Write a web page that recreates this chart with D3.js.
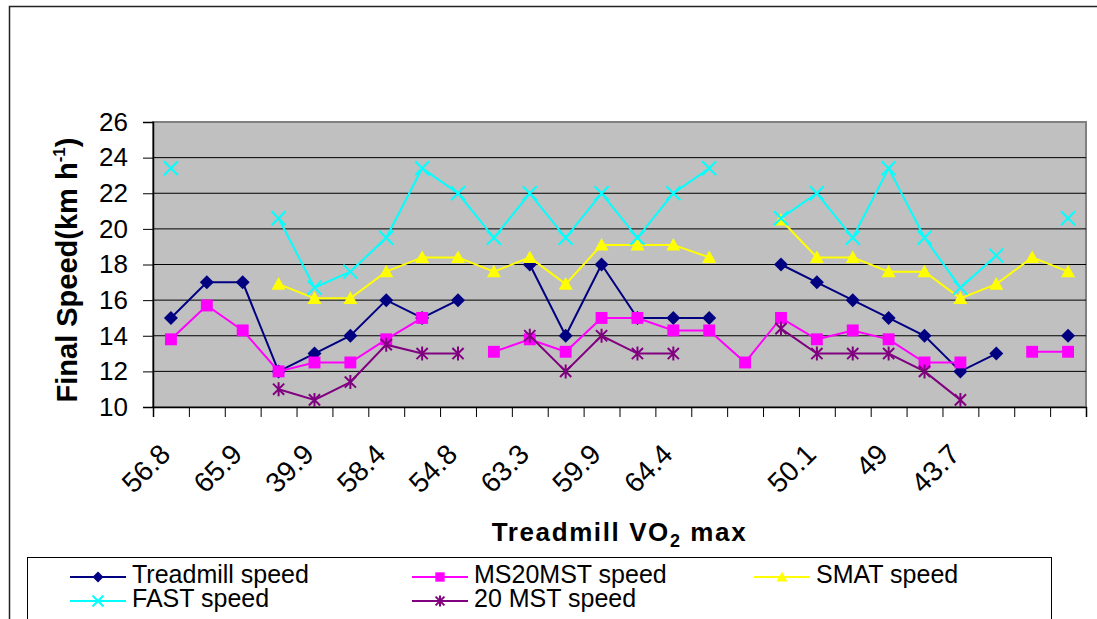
<!DOCTYPE html>
<html>
<head>
<meta charset="utf-8">
<style>
  body { margin: 0; background: #fff; }
  svg { display: block; font-family: "Liberation Sans", Arial, sans-serif; }
</style>
</head>
<body>
<svg width="1097" height="619"></svg>
<script src="https://d3js.org/d3.v7.min.js"></script>
<script>
// category labels (Excel only shows every other one)
const categories = ["56.8", "", "65.9", "", "39.9", "", "58.4", "", "54.8", "", "63.3", "", "59.9", "",
    "64.4", "", "", "", "50.1", "", "49", "", "43.7", "", "", ""];
const yTicks = [10, 12, 14, 16, 18, 20, 22, 24, 26];

const treadmill = [15, 17, 17, 12, 13, 14, 16, 15, 16, null, 18, 14, 18, 15, 15, 15, null, 18, 17, 16, 15, 14, 12, 13, null, 14];
const ms20mst = [13.8, 15.7, 14.3, 12, 12.5, 12.5, 13.8, 15, null, 13.1, 13.8, 13.1, 15, 15, 14.3, 14.3, 12.5, 15, 13.8, 14.3, 13.8, 12.5, 12.5, null, 13.1, 13.1];
const smat = [null, null, null, 16.9, 16.1, 16.1, 17.6, 18.4, 18.4, 17.6, 18.4, 16.9, 19.1, 19.1, 19.1, 18.4, null, 20.5, 18.4, 18.4, 17.6, 17.6, 16.1, 16.9, 18.4, 17.6];
const fast = [23.4, null, null, 20.6, 16.7, 17.6, 19.5, 23.4, 22, 19.5, 22, 19.5, 22, 19.5, 22, 23.4, null, 20.6, 22, 19.5, 23.4, 19.5, 16.7, 18.5, null, 20.6];
const mst20 = [null, null, null, 11, 10.4, 11.4, 13.5, 13, 13, null, 14, 12, 14, 13, 13, null, null, 14.4, 13, 13, 13, 12, 10.4, null, null, null];

const series = [
    { name: "Treadmill speed", values: treadmill, color: "#000080", marker: "diamond" },
    { name: "MS20MST speed", values: ms20mst, color: "#FF00FF", marker: "square" },
    { name: "SMAT speed", values: smat, color: "#FFFF00", marker: "triangle" },
    { name: "FAST speed", values: fast, color: "#00FFFF", marker: "x" },
    { name: "20 MST speed", values: mst20, color: "#800080", marker: "star" }
];

const svg = d3.select("svg");
const plot = { left: 153, right: 1086, top: 122, bottom: 407 };

// outer chart frame (runs off the picture to the right and bottom)
svg.append("rect")
    .attr("x", 9.5).attr("y", 6.5)
    .attr("width", 1200).attr("height", 700)
    .attr("fill", "#fff").attr("stroke", "#222").attr("stroke-width", 1.5);

const x = d3.scaleBand().domain(d3.range(categories.length)).range([plot.left, plot.right]);
const xEdge = d3.scaleLinear().domain([0, categories.length]).range([plot.left, plot.right]);
const y = d3.scaleLinear().domain([10, 26]).range([plot.bottom, plot.top]);
const cx = i => x(i) + x.bandwidth() / 2;

// plot background
svg.append("rect")
    .attr("x", plot.left).attr("y", plot.top)
    .attr("width", plot.right - plot.left).attr("height", plot.bottom - plot.top)
    .attr("fill", "#C0C0C0").attr("stroke", "#808080").attr("stroke-width", 2);

// gridlines
svg.append("g")
    .selectAll("line")
    .data(yTicks.slice(1, -1))
    .enter().append("line")
    .attr("x1", plot.left).attr("x2", plot.right)
    .attr("y1", d => y(d)).attr("y2", d => y(d))
    .attr("stroke", "#000").attr("stroke-width", 1);

// y axis
const yAxis = svg.append("g")
    .attr("transform", `translate(${plot.left},0)`)
    .call(d3.axisLeft(y).tickValues(yTicks).tickSize(10).tickPadding(15).tickFormat(d3.format("d")));
yAxis.select(".domain").attr("stroke", "#000").attr("stroke-width", 1.5);
yAxis.selectAll(".tick line").attr("stroke", "#000");
yAxis.selectAll("text").attr("font-size", 26).attr("fill", "#000")
    .attr("font-family", "'Liberation Sans', Arial, sans-serif");

// x axis (ticks between categories)
const xAxis = svg.append("g")
    .attr("transform", `translate(0,${plot.bottom})`)
    .call(d3.axisBottom(xEdge).ticks(categories.length).tickSize(10).tickFormat(""));
xAxis.select(".domain").attr("stroke", "#000").attr("stroke-width", 1.5);
xAxis.selectAll(".tick line").attr("stroke", "#000");

svg.append("g")
    .selectAll("text")
    .data(categories.map((c, i) => ({ c, i })).filter(d => d.c !== ""))
    .enter().append("text")
    .attr("transform", d => `translate(${cx(d.i) + 1},456) rotate(-45)`)
    .attr("text-anchor", "end")
    .attr("font-size", 28)
    .text(d => d.c);

// marker shapes
function drawMarker(g, type, color, s) {
    if (type === "diamond") {
        g.append("path").attr("d", `M0,${-s}L${s},0L0,${s}L${-s},0Z`).attr("fill", color);
    } else if (type === "square") {
        g.append("rect").attr("x", -s * 0.85).attr("y", -s * 0.85)
            .attr("width", s * 1.7).attr("height", s * 1.7).attr("fill", color);
    } else if (type === "triangle") {
        g.append("path").attr("d", `M0,${-s}L${s},${s * 0.8}L${-s},${s * 0.8}Z`).attr("fill", color);
    } else if (type === "x") {
        g.append("path").attr("d", `M${-s},${-s}L${s},${s}M${-s},${s}L${s},${-s}`)
            .attr("stroke", color).attr("stroke-width", 2).attr("fill", "none");
    } else if (type === "star") {
        const k = s * 0.8;
        g.append("path").attr("d", `M${-k},${-k}L${k},${k}M${-k},${k}L${k},${-k}M0,${-s}L0,${s}`)
            .attr("stroke", color).attr("stroke-width", 2).attr("fill", "none");
    }
}

const line = d3.line()
    .defined(d => d.v != null)
    .x(d => cx(d.i))
    .y(d => y(d.v));

series.forEach(s => {
    const pts = s.values.map((v, i) => ({ v, i }));
    const g = svg.append("g");
    g.append("path")
        .datum(pts)
        .attr("d", line)
        .attr("fill", "none")
        .attr("stroke", s.color)
        .attr("stroke-width", 2);
    g.selectAll("g.m")
        .data(pts.filter(d => d.v != null))
        .enter().append("g")
        .attr("class", "m")
        .attr("transform", d => `translate(${cx(d.i)},${y(d.v)})`)
        .each(function () { drawMarker(d3.select(this), s.marker, s.color, 7); });
});

// axis titles
const xTitle = svg.append("text")
    .attr("x", (plot.left + plot.right) / 2).attr("y", 541)
    .attr("text-anchor", "middle")
    .attr("font-size", 26).attr("font-weight", "bold")
    .attr("letter-spacing", 1.6);
xTitle.append("tspan").text("Treadmill VO");
xTitle.append("tspan").attr("font-size", 18).attr("dy", 6).text("2");
xTitle.append("tspan").attr("dy", -6).text(" max");

const yTitle = svg.append("text")
    .attr("transform", "translate(77,270) rotate(-90)")
    .attr("text-anchor", "middle")
    .attr("font-size", 29).attr("font-weight", "bold");
yTitle.append("tspan").text("Final Speed(km h");
yTitle.append("tspan").attr("font-size", 17).attr("dy", -12).text("-1");
yTitle.append("tspan").attr("dy", 12).text(")");

// legend
svg.append("rect")
    .attr("x", 27.5).attr("y", 557.5)
    .attr("width", 1024).attr("height", 100)
    .attr("fill", "#fff").attr("stroke", "#000").attr("stroke-width", 1);

const legendCols = [70, 412, 754];
const legendRows = [577, 601];
const legend = svg.append("g")
    .selectAll("g")
    .data(series)
    .enter().append("g")
    .attr("transform", (d, i) => `translate(${legendCols[i % 3]},${legendRows[Math.floor(i / 3)]})`);
legend.append("line")
    .attr("x1", 0).attr("x2", 56)
    .attr("stroke", d => d.color).attr("stroke-width", 2);
legend.each(function (d) {
    const m = d3.select(this).append("g").attr("transform", "translate(28,0)");
    drawMarker(m, d.marker, d.color, 5.5);
});
legend.append("text")
    .attr("x", 62).attr("y", 5.5)
    .attr("font-size", 25)
    .text(d => d.name);
</script>
</body>
</html>
